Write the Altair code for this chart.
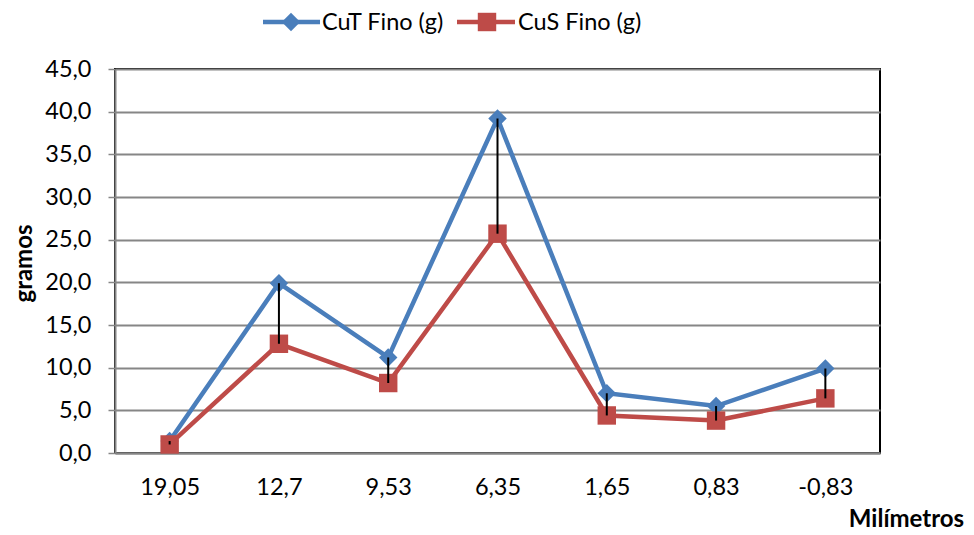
import altair as alt
import pandas as pd

categories = ["19,05", "12,7", "9,53", "6,35", "1,65", "0,83", "-0,83"]
cut_fino = [1.4, 19.9, 11.2, 39.2, 7.0, 5.5, 9.9]
cus_fino = [1.0, 12.8, 8.2, 25.7, 4.4, 3.8, 6.4]
series_names = ["CuT Fino (g)", "CuS Fino (g)"]
y_ticks = [0, 5, 10, 15, 20, 25, 30, 35, 40, 45]

BLUE = "#4A7EBB"
RED = "#BE4B48"
FONT = "Lato"
LBL = 23.5
TTL = 24

df_t = pd.DataFrame({"cat": categories, "value": cut_fino})
df_s = pd.DataFrame({"cat": categories, "value": cus_fino})
df_hl = pd.DataFrame({"cat": categories, "hi": cut_fino, "lo": cus_fino})

xenc = alt.X(
    "cat:N",
    sort=categories,
    scale=alt.Scale(type="point", padding=0.5),
    axis=alt.Axis(
        title="Milímetros",
        titleFont=FONT, titleFontSize=TTL, titleFontWeight="bold", titleColor="black",
        titleX=791, titleY=66, titleAlign="center", titleBaseline="middle", titleAnchor="start",
        labelFont=FONT, labelFontSize=LBL, labelColor="black", labelPadding=22,
        ticks=False, domainColor="#868686", domainWidth=2, grid=False, labelAngle=0,
    ),
)
yscale = alt.Scale(domain=[0, 45], nice=False, zero=True)
yaxis = alt.Axis(
    title="gramos",
    titleFont=FONT, titleFontSize=TTL, titleFontWeight="bold", titleColor="black",
    titleX=-91, titleY=194, titleAlign="center", titleBaseline="middle", titleAnchor="start",
    values=y_ticks,
    labelExpr="replace(format(datum.value, '.1f'), '.', ',')",
    labelFont=FONT, labelFontSize=LBL, labelColor="black", labelPadding=17,
    tickColor="#868686", tickSize=7, tickWidth=1.5,
    domainColor="#868686", domainWidth=2,
    grid=True, gridColor="#868686", gridWidth=1.8,
)

line_t = alt.Chart(df_t).mark_line(color=BLUE, strokeWidth=4.5).encode(
    x=xenc, y=alt.Y("value:Q", scale=yscale, axis=yaxis)
)
pts_t = alt.Chart(df_t).mark_point(shape="diamond", filled=True, color=BLUE, size=340, opacity=1).encode(
    x=alt.X("cat:N", sort=categories), y=alt.Y("value:Q")
)
line_s = alt.Chart(df_s).mark_line(color=RED, strokeWidth=4.5).encode(
    x=alt.X("cat:N", sort=categories), y=alt.Y("value:Q")
)
pts_s = alt.Chart(df_s).mark_point(shape="square", filled=True, color=RED, size=340, opacity=1).encode(
    x=alt.X("cat:N", sort=categories), y=alt.Y("value:Q")
)
hl = alt.Chart(df_hl).mark_rule(color="black", strokeWidth=2).encode(
    x=alt.X("cat:N", sort=categories), y=alt.Y("hi:Q"), y2="lo:Q"
)

# Legend
leg_t = pd.DataFrame({"label": [series_names[0]]})
leg_s = pd.DataFrame({"label": [series_names[1]]})
leg = [
    alt.Chart(leg_t).mark_rule(color=BLUE, strokeWidth=4.5).encode(
        x=alt.value(148), x2=alt.value(205), y=alt.value(-47)),
    alt.Chart(leg_t).mark_point(shape="diamond", filled=True, color=BLUE, size=340, opacity=1).encode(
        x=alt.value(176), y=alt.value(-47)),
    alt.Chart(leg_t).mark_text(align="left", baseline="middle", font=FONT, fontSize=LBL, color="black").encode(
        x=alt.value(207), y=alt.value(-46), text="label:N"),
    alt.Chart(leg_s).mark_rule(color=RED, strokeWidth=4.5).encode(
        x=alt.value(342), x2=alt.value(400), y=alt.value(-47)),
    alt.Chart(leg_s).mark_point(shape="square", filled=True, color=RED, size=340, opacity=1).encode(
        x=alt.value(372), y=alt.value(-47)),
    alt.Chart(leg_s).mark_text(align="left", baseline="middle", font=FONT, fontSize=LBL, color="black").encode(
        x=alt.value(403), y=alt.value(-46), text="label:N"),
]

chart = alt.layer(line_t, pts_t, line_s, pts_s, hl, *leg).properties(
    width=765, height=384,
    autosize=alt.AutoSizeParams(type="none"),
    padding={"left": 115, "top": 69, "right": 94, "bottom": 82},
    background="white",
).configure_view(stroke="black", strokeWidth=2)

chart.save("out.html", embed_options={"renderer": "svg", "actions": False})
